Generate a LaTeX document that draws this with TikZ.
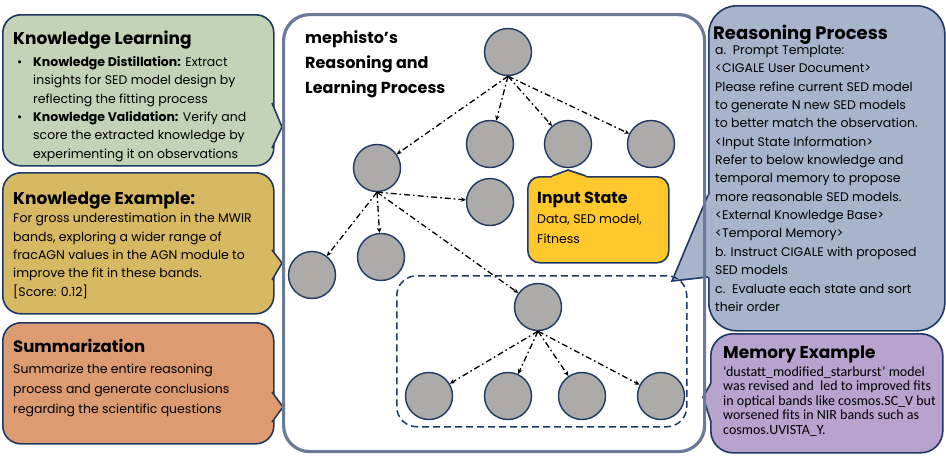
\documentclass[tikz,border=0pt]{standalone}
\usepackage{fontspec}
\setmainfont{Poppins}
\newfontfamily\calib{Carlito}
\usetikzlibrary{arrows.meta}
\definecolor{navy}{HTML}{1F3864}
\definecolor{sage}{HTML}{C4D3B7}
\definecolor{gold}{HTML}{D8B963}
\definecolor{peach}{HTML}{DD9B72}
\definecolor{bluegray}{HTML}{A8B4CC}
\definecolor{lilac}{HTML}{B8A2CE}
\definecolor{yel}{HTML}{FFC82C}
\definecolor{mainc}{HTML}{6B7A99}
\definecolor{stgray}{HTML}{ADAAAA}
\lineskiplimit=-20pt
\lineskip=0pt
\begin{document}
\begin{tikzpicture}[x=1pt,y=-1pt,
  box/.style={draw=navy, line width=1.6pt, rounded corners=#1, inner sep=0pt, anchor=north west},
  box/.default=18pt,
  ptr/.style={draw=navy, line width=1.6pt},
  st/.style={circle, draw=navy, line width=1.4pt, fill=stgray, minimum size=47pt, inner sep=0pt},
  link/.style={-{Stealth[length=5pt,width=4.5pt]}, line width=1.3pt, dash pattern=on 6pt off 3pt on 1.6pt off 3pt},
  txt/.style={inner sep=0pt, anchor=north west, align=left, text=black},
  body/.style={txt, font=\fontsize{12.5}{18.4}\selectfont},
  ttlf/.style={txt, font=\bfseries\fontsize{17}{20}\selectfont},
]
\useasboundingbox (0,0) rectangle (946,464);
\fill[white] (0,0) rectangle (946,464);

% ---- left callouts
\node[box, fill=sage, minimum width=271pt, minimum height=151pt] (kl) at (2,14) {};
\fill[sage] (268,103) -- (272,103) -- (282,127) -- (272,148) -- (268,148) -- cycle;
\draw[ptr] (272,103) -- (282,127) -- (272,148);

\node[box, fill=gold, minimum width=271pt, minimum height=141pt] (ke) at (2,172) {};
\fill[gold] (268,250) -- (272,250) -- (282,263) -- (272,280) -- (268,280) -- cycle;
\draw[ptr] (272,250) -- (282,263) -- (272,280);

\node[box, fill=peach, minimum width=271pt, minimum height=121pt] (su) at (2,322) {};
\fill[peach] (268,392) -- (272,392) -- (283,407) -- (272,422) -- (268,422) -- cycle;
\draw[ptr] (272,392) -- (283,407) -- (272,422);

% ---- right callouts
\node[box=28pt, fill=bluegray, minimum width=236pt, minimum height=325pt] (rp) at (708,5) {};
\coordinate (rptip) at (672,281);
\fill[bluegray] (712,195) -- (708,195) -- (rptip) -- (708,277) -- (712,277) -- cycle;
\draw[ptr] (708,195) -- (rptip) -- (708,277);

\node[box=22pt, fill=lilac, minimum width=232pt, minimum height=119pt] (me) at (710,333) {};
\fill[lilac] (715,383) -- (711,383) -- (703,397) -- (711,422) -- (715,422) -- cycle;
\draw[ptr] (711,383) -- (703,397) -- (711,422);

% ---- main box
\node[draw=mainc, line width=3.2pt, rounded corners=26pt, inner sep=0pt, minimum width=421pt, minimum height=437pt, anchor=north west] (mainbox) at (282,13) {};
\node[draw=navy, line width=1.5pt, dash pattern=on 7pt off 4pt, rounded corners=20pt, inner sep=0pt, minimum width=290pt, minimum height=151pt, anchor=north west] (grp) at (396,275) {};

% ---- input state
\node[box=12pt, fill=yel, minimum width=141pt, minimum height=86pt] (is) at (527,176) {};
\fill[yel] (552,180) -- (552,176) -- (568,170) -- (586,176) -- (586,180) -- cycle;
\draw[ptr] (552,176) -- (568,170) -- (586,176);

% ---- tree
\node[st] (r) at (508,52) {};
\node[st] (c1) at (490,144) {};
\node[st] (c2) at (568,144) {};
\node[st] (c3) at (651,144) {};
\node[st] (l1) at (377,168) {};
\node[st] (m) at (490,202) {};
\node[st] (l2) at (312,275) {};
\node[st] (l3) at (381,257) {};
\node[st] (g) at (538,307) {};
\node[st] (b1) at (429,396) {};
\node[st] (b2) at (508,396) {};
\node[st] (b3) at (582,396) {};
\node[st] (b4) at (661,396) {};

\foreach \t in {l1,c1,c2,c3} \draw[link] (r.south) -- (\t);
\foreach \t in {m,l2,l3,g} \draw[link] (l1.south) -- (\t);
\foreach \t in {b1,b2,b3,b4} \draw[link] (g.south) -- (\t);

% ---- texts
\node[ttlf] (klt) at (13,31) {Knowledge Learning};
\node[body] (klb) at (17,56) {\makebox[16pt][l]{\textbullet}\textbf{Knowledge Distillation:} Extract\\
\hspace*{16pt}insights for SED model design by\\
\hspace*{16pt}reflecting the fitting process\\
\makebox[16pt][l]{\textbullet}\textbf{Knowledge Validation:} Verify and\\
\hspace*{16pt}score the extracted knowledge by\\
\hspace*{16pt}experimenting it on observations};

\node[ttlf] (ket) at (13,192) {Knowledge Example:};
\node[body] (keb) at (13,213) {For gross underestimation in the MWIR\\
bands, exploring a wider range of\\
fracAGN values in the AGN module to\\
improve the fit in these bands.\\
{[}Score: 0.12{]}};

\node[ttlf, font=\bfseries\fontsize{16.5}{20}\selectfont] (sut) at (13,339) {Summarization};
\node[body, font=\fontsize{12.5}{19.8}\selectfont] (sub) at (13,364) {Summarize the entire reasoning\\
process and generate conclusions\\
regarding the scientific questions};

\node[txt, font=\bfseries\fontsize{16}{25}\selectfont] (mt) at (305,30) {mephisto’s\\Reasoning and\\Learning Process};

\node[ttlf, font=\bfseries\fontsize{16}{20}\selectfont] (ist) at (537,192) {Input State};
\node[body, font=\fontsize{12.5}{20}\selectfont] (isb) at (537,214) {Data, SED model,\\Fitness};

\node[ttlf, font=\bfseries\fontsize{18}{20}\selectfont] (rpt) at (713,25) {Reasoning Process};
\node[body, font=\fontsize{12.5}{18.35}\selectfont] (rpb) at (715,45) {a.\ \ Prompt Template:\\
<CIGALE User Document>\\
Please refine current SED model\\
to generate N new SED models\\
to better match the observation.\\
<Input State Information>\\
Refer to below knowledge and\\
temporal memory to propose\\
more reasonable SED models.\\
<External Knowledge Base>\\
<Temporal Memory>\\
b. Instruct CIGALE with proposed\\
SED models\\
c.\ \ Evaluate each state and sort\\
their order};

\node[ttlf] (met) at (723,346) {Memory Example};
\node[txt, font=\calib\fontsize{14}{14.5}\selectfont] (meb) at (723,366) {‘dustatt\_modified\_starburst’ model\\
was revised and\ \ led to improved fits\\
in optical bands like cosmos.SC\_V but\\
worsened fits in NIR bands such as\\
cosmos.UVISTA\_Y.};
\end{tikzpicture}
\end{document}
